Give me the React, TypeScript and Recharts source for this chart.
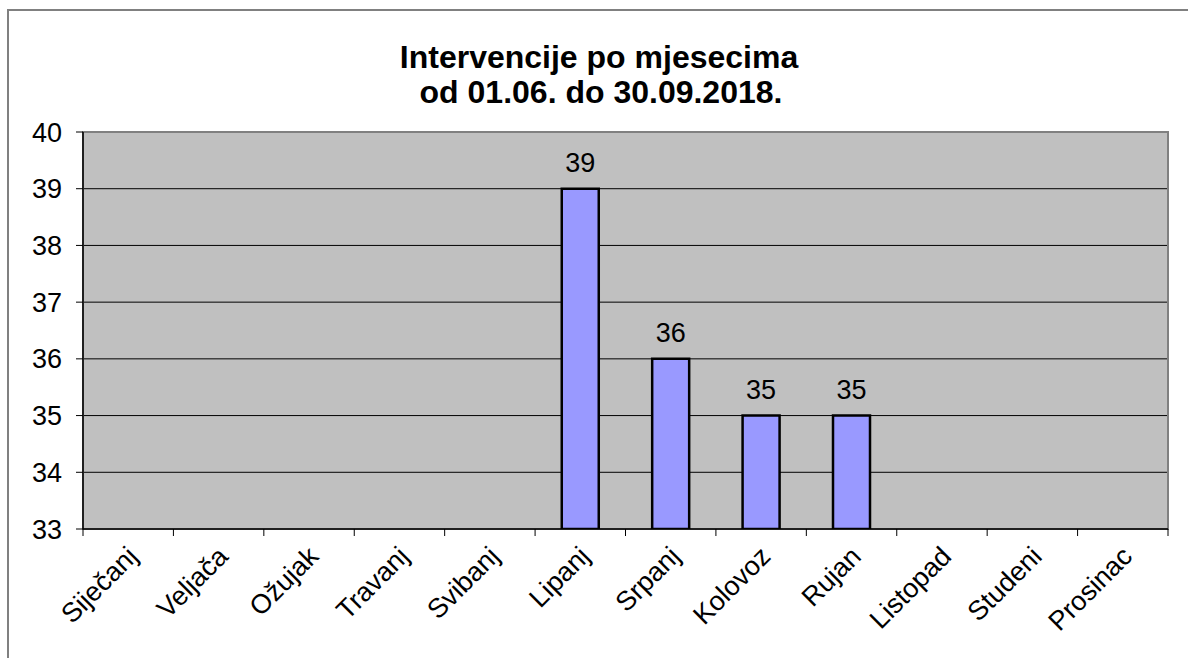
import React from 'react';
import { BarChart, Bar, XAxis, YAxis, CartesianGrid, LabelList, ReferenceArea } from 'recharts';

const months = ['Siječanj', 'Veljača', 'Ožujak', 'Travanj', 'Svibanj', 'Lipanj', 'Srpanj', 'Kolovoz', 'Rujan', 'Listopad', 'Studeni', 'Prosinac'];
const interventions: (number | null)[] = [null, null, null, null, null, 39, 36, 35, 35, null, null, null];
const yTicks = [33, 34, 35, 36, 37, 38, 39, 40];
const titleLines = ['Intervencije po mjesecima', 'od 01.06. do 30.09.2018.'];

const W = 1188;
const H = 658;
const MARGIN = { top: 132, right: 20, bottom: 0, left: 0 };
const Y_AXIS_W = 83;
const X_AXIS_H = 129;
const PLOT_W = W - MARGIN.right - Y_AXIS_W;
const FONT = '"Liberation Sans", Arial, sans-serif';

const data = months.map((m, i) => ({ month: m, value: interventions[i] }));

function XTick(props: any) {
  const { x, y, payload, index } = props;
  const band = PLOT_W / months.length;
  const left = x - band / 2;
  const ax = x + 11;
  const ay = y + 29;
  return (
    <g>
      <line x1={left} y1={y} x2={left} y2={y + 7} stroke="#000" strokeWidth={1} />
      {index === months.length - 1 && (
        <line x1={x + band / 2} y1={y} x2={x + band / 2} y2={y + 7} stroke="#000" strokeWidth={1} />
      )}
      <text
        x={ax}
        y={ay}
        transform={`rotate(-45 ${ax} ${ay})`}
        textAnchor="end"
        fontSize={27}
        fontFamily={FONT}
        fill="#000"
      >
        {payload.value}
      </text>
    </g>
  );
}

export default function App() {
  return (
    <div style={{ position: 'fixed', left: 0, top: 0, width: W, height: H, overflow: 'hidden', background: '#fff' }}>
      <div
        style={{
          position: 'absolute',
          left: 7,
          top: 9,
          width: 1400,
          height: 900,
          border: '2px solid #808080',
          boxSizing: 'border-box',
        }}
      />
      <div style={{ position: 'absolute', left: 0, top: 0 }}>
        <BarChart width={W} height={H} data={data} margin={MARGIN} barCategoryGap="29.5%">
          <CartesianGrid vertical={false} stroke="#000" strokeWidth={1} fill="#C0C0C0" fillOpacity={1} />
          <ReferenceArea y1={33} y2={40} fill="none" stroke="#808080" strokeWidth={2} ifOverflow="visible" />
          <XAxis
            dataKey="month"
            interval={0}
            height={X_AXIS_H}
            tickSize={0}
            tickMargin={0}
            tickLine={false}
            axisLine={{ stroke: '#000', strokeWidth: 1.5 }}
            tick={<XTick />}
          />
          <YAxis
            width={Y_AXIS_W}
            domain={[33, 40]}
            ticks={yTicks}
            allowDataOverflow
            interval={0}
            tickSize={7}
            tickMargin={14}
            tickLine={{ stroke: '#000' }}
            axisLine={{ stroke: '#000', strokeWidth: 1.5 }}
            tick={{ fontSize: 27, fill: '#000', fontFamily: FONT }}
          />
          <Bar dataKey="value" fill="#9999FF" stroke="#000" strokeWidth={2.5} isAnimationActive={false}>
            <LabelList dataKey="value" position="top" offset={17} fontSize={27} fill="#000" fontFamily={FONT} />
          </Bar>
        </BarChart>
      </div>
      <svg width={W} height={H} style={{ position: 'absolute', left: 0, top: 0, pointerEvents: 'none' }}>
        <text x={599} y={68} textAnchor="middle" fontSize={32} fontWeight="bold" fontFamily={FONT} fill="#000">
          {titleLines[0]}
        </text>
        <text x={601} y={103} textAnchor="middle" fontSize={32} fontWeight="bold" fontFamily={FONT} fill="#000">
          {titleLines[1]}
        </text>
      </svg>
    </div>
  );
}
